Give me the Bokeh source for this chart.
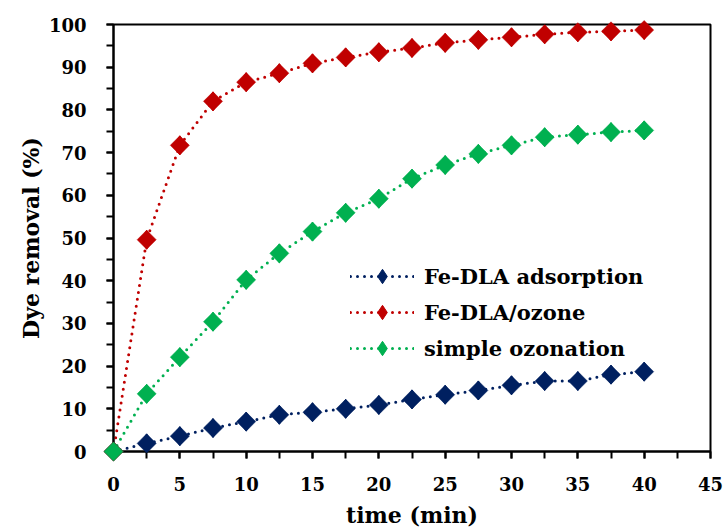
import numpy as np
from bokeh.plotting import figure
from bokeh.models import Range1d, SingleIntervalTicker, Legend, LegendItem
from bokeh.embed import file_html
from bokeh.resources import INLINE

# Sampling times (min)
time_min = [0, 2.5, 5, 7.5, 10, 12.5, 15, 17.5, 20, 22.5, 25, 27.5, 30, 32.5, 35, 37.5, 40]

# Dye removal (%) for each process
adsorption = [0, 1.9, 3.6, 5.5, 7.0, 8.6, 9.2, 10.0, 10.9, 12.2, 13.3, 14.3, 15.5, 16.5, 16.5, 18.0, 18.7]
catalytic_ozone = [0, 49.6, 71.7, 82.0, 86.5, 88.6, 90.9, 92.3, 93.5, 94.5, 95.7, 96.4, 97.0, 97.7, 98.2, 98.4, 98.7]
simple_ozonation = [0, 13.5, 22.1, 30.4, 40.2, 46.4, 51.5, 55.9, 59.2, 63.9, 67.1, 69.7, 71.7, 73.6, 74.2, 74.8, 75.2]

series_names = ["Fe-DLA adsorption", "Fe-DLA/ozone", "simple ozonation"]
series_values = [adsorption, catalytic_ozone, simple_ozonation]
series_colors = ["#002060", "#C00000", "#00B050"]

FONT = "DejaVu Serif"

p = figure(
    width=724, height=531,
    x_range=Range1d(0, 45), y_range=Range1d(0, 100),
    output_backend="svg", toolbar_location=None,
    min_border_left=113, min_border_right=14,
    min_border_top=24, min_border_bottom=80,
    background_fill_color="white", border_fill_color="white",
)
p.grid.visible = False
p.outline_line_color = "black"
p.outline_line_width = 2

# Axes
p.xaxis.ticker = SingleIntervalTicker(interval=5, num_minor_ticks=2)
p.yaxis.ticker = SingleIntervalTicker(interval=10, num_minor_ticks=2)
for ax in (p.xaxis[0], p.yaxis[0]):
    ax.axis_line_color = "black"
    ax.axis_line_width = 2
    ax.major_tick_line_color = "black"
    ax.minor_tick_line_color = "black"
    ax.major_tick_line_width = 2
    ax.minor_tick_line_width = 2
    ax.major_tick_in = 0
    ax.major_tick_out = 7
    ax.minor_tick_in = 0
    ax.minor_tick_out = 7
    ax.major_label_text_font = FONT
    ax.major_label_text_font_style = "bold"
    ax.major_label_text_font_size = "18px"
    ax.major_label_text_color = "black"
    ax.axis_label_text_font = FONT
    ax.axis_label_text_font_style = "bold"
    ax.axis_label_text_font_size = "22px"
    ax.axis_label_text_color = "black"

p.xaxis.axis_label = "time (min)"
p.yaxis.axis_label = "Dye removal (%)"
p.xaxis.major_label_standoff = 18
p.xaxis.axis_label_standoff = 8
p.yaxis.major_label_standoff = 20
p.yaxis.axis_label_standoff = 2

items = []
for name, vals, color in zip(series_names, series_values, series_colors):
    ln = p.line(time_min, vals, line_color=color, line_width=3,
                line_dash="0 7", line_cap="round")
    # narrow diamond used as the legend key; sits fully beneath the plot markers
    key = p.scatter(time_min, vals, marker="diamond", size=19,
                    fill_color=color, line_color=color)
    p.scatter(time_min, vals, marker="square", angle=np.pi / 4, size=13.5,
              fill_color=color, line_color=color, line_width=0.5,
              level="overlay")
    items.append(LegendItem(label=name, renderers=[ln, key]))

legend = Legend(
    items=items, location=(237, 85),
    background_fill_alpha=0, border_line_alpha=0,
    padding=0, margin=0, spacing=0,
    glyph_width=64, glyph_height=36, label_height=35,
    label_standoff=10,
    label_text_font=FONT, label_text_font_style="bold",
    label_text_font_size="21px", label_text_color="black",
)
p.add_layout(legend, "center")

open("out.html", "w").write(file_html(p, INLINE))
